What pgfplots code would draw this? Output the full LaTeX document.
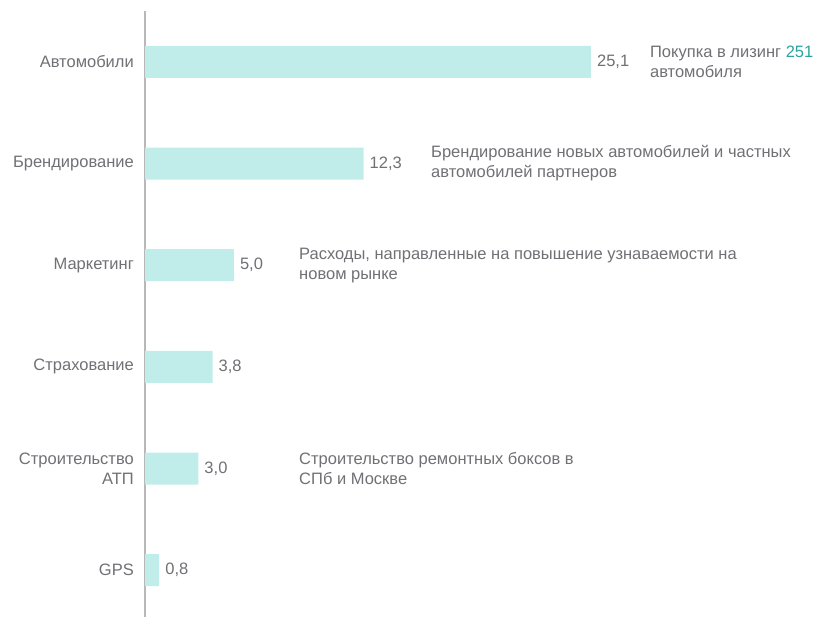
\documentclass[border=0pt]{standalone}
\usepackage{fontspec}
\setmainfont{Liberation Sans}
\usepackage{pgfplots}
\pgfplotsset{compat=1.18}
\definecolor{barc}{HTML}{C0ECEA}
\definecolor{txt}{HTML}{707075}
\definecolor{teal2}{HTML}{2BA39E}
\definecolor{axc}{HTML}{B8B8B8}
\newcommand{\lf}{\fontsize{16.5}{20}\selectfont}
\begin{document}
\begin{tikzpicture}
\path[use as bounding box] (0,0) rectangle (821pt,617pt);
\begin{axis}[
  at={(145pt,0pt)}, anchor=south west,
  scale only axis, width=668pt, height=606pt,
  xmin=0, xmax=37.6, ymin=-0.5, ymax=5.46, y dir=reverse,
  xbar, bar width=32pt,
  axis x line=none, axis y line*=left,
  y axis line style={draw=axc, line width=1.5pt},
  ytick={0,1,2,3,4,5},
  yticklabels={Автомобили,Брендирование,Маркетинг,Страхование,{Строительство\\АТП},GPS},
  y tick label style={font=\lf, text=txt, align=right, inner sep=0pt, xshift=-11pt},
  major tick length=0pt, ytick style={draw=none},
  nodes near coords,
  nodes near coords style={font=\lf, text=txt, anchor=west, inner sep=0pt, xshift=6pt,
    /pgf/number format/.cd, assume math mode=true, use comma, fixed, fixed zerofill, precision=1},
  clip=false,
]
\addplot[fill=barc, draw=none] coordinates {(25.1,0) (12.3,1) (5.0,2) (3.8,3) (3.0,4) (0.8,5)};
\node[anchor=west, align=left, text=txt, font=\lf, inner sep=0pt] at (axis cs:28.42,0) {Покупка в лизинг \textcolor{teal2}{251}\\автомобиля};
\node[anchor=west, align=left, text=txt, font=\lf, inner sep=0pt] at (axis cs:16.1,1) {Брендирование новых автомобилей и частных\\автомобилей партнеров};
\node[anchor=west, align=left, text=txt, font=\lf, inner sep=0pt] at (axis cs:8.67,2) {Расходы, направленные на повышение узнаваемости на\\новом рынке};
\node[anchor=west, align=left, text=txt, font=\lf, inner sep=0pt] at (axis cs:8.67,4) {Строительство ремонтных боксов в\\СПб и Москве};
\end{axis}
\end{tikzpicture}
\end{document}
